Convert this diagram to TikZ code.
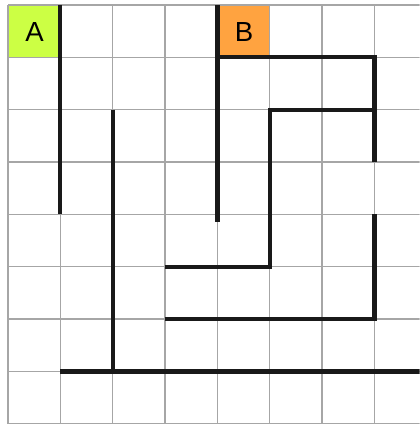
\documentclass[tikz,border=0pt]{standalone}
\usepackage{fontspec}
\setmainfont{Liberation Sans}
\definecolor{cellgreen}{RGB}{204,255,68}
\definecolor{cellorange}{RGB}{255,163,64}
\begin{document}
\begin{tikzpicture}[
  gridline/.style={draw=gray!70, line width=0.7pt},
  wall/.style={draw=black!90, line width=2.3pt, line join=miter},
  cell/.style={
    minimum size=1cm, inner sep=0pt, anchor=north west,
    font=\fontsize{15}{18}\selectfont
  },
]

% page frame of the picture
\useasboundingbox (-0.153, 0.095) rectangle (7.863, -8.004);
\clip (-0.153, 0.095) rectangle (7.863, -8.004);

% marked cells
\node[cell, fill=cellgreen] (A) at (0, 0) {A};
\node[cell, fill=cellorange] (B) at (4, 0) {B};

% the grid
\foreach \i in {0,...,8} {
  \draw[gridline] (\i, 0) -- (\i, -8);
  \draw[gridline] (0, -\i) -- (8.5, -\i);
}

% walls
\draw[wall] (1, 0) -- (1, -4);
\draw[wall] (2, -2) -- (2, -7);
\draw[wall] (1, -7) -- (8.5, -7);
\draw[wall] (4, 0) -- (4, -4.15);
\draw[wall] (4, -1) -- (7, -1) -- (7, -3);
\draw[wall] (7, -2) -- (5, -2) -- (5, -5) -- (3, -5);
\draw[wall] (7, -4) -- (7, -6) -- (3, -6);

\end{tikzpicture}
\end{document}
